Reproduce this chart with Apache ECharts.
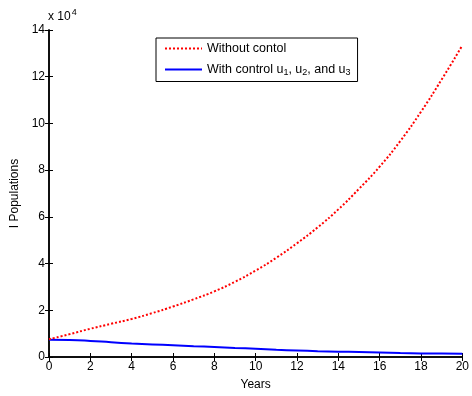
<!DOCTYPE html>
<html>
<head>
<meta charset="utf-8">
<script src="https://cdn.jsdelivr.net/npm/echarts@6/dist/echarts.min.js"></script>
<style>
html,body{margin:0;padding:0;background:#fff;overflow:hidden;}
#chart{width:100vw;height:100vh;}
</style>
</head>
<body>
<div id="chart"></div>
<script>
// Data (values in units of 10^4)
var years = [0,1,2,3,4,5,6,7,8,9,10,11,12,13,14,15,16,17,18,19,20];
var withoutControl = [0.76,0.98,1.21,1.42,1.63,1.88,2.16,2.47,2.81,3.22,3.70,4.25,4.87,5.55,6.32,7.20,8.15,9.25,10.50,11.88,13.34];
var withControl = [0.74,0.73,0.69,0.63,0.58,0.54,0.50,0.46,0.43,0.39,0.35,0.31,0.28,0.25,0.23,0.21,0.19,0.17,0.155,0.15,0.14];
var yTicks = [0,2,4,6,8,10,12,14];
var xTicks = [0,2,4,6,8,10,12,14,16,18,20];
var seriesNames = ['Without contol', 'With control u{sub|1}, u{sub|2}, and u{sub|3}'];

var FONT = 'Liberation Sans, Arial, sans-serif';
function pairs(xs, ys){ return xs.map(function(x,i){ return [x, ys[i]]; }); }

var axisCommon = {
  type: 'value',
  axisLine: {show: true, lineStyle: {color: '#000', width: 1.5}},
  axisTick: {show: true, inside: true, length: 4, lineStyle: {color: '#000', width: 1}},
  splitLine: {show: false},
  axisLabel: {color: '#000', fontFamily: FONT, fontSize: 12}
};

var chart = echarts.init(document.getElementById('chart'), null, {renderer: 'canvas'});
chart.setOption({
  animation: false,
  backgroundColor: '#fff',
  grid: {left: 49, right: 2, top: 30, bottom: 36, containLabel: false},
  xAxis: [
    Object.assign({}, axisCommon, {
      position: 'bottom', min: xTicks[0], max: xTicks[xTicks.length-1], interval: 2,
      axisLabel: Object.assign({}, axisCommon.axisLabel, {margin: 4}),
      name: 'Years', nameLocation: 'middle', nameGap: 22,
      nameTextStyle: {color: '#000', fontFamily: FONT, fontSize: 12}
    }),
    Object.assign({}, axisCommon, {
      position: 'top', min: xTicks[0], max: xTicks[xTicks.length-1], interval: 2,
      axisLabel: {show: false}
    })
  ],
  yAxis: [
    Object.assign({}, axisCommon, {
      position: 'left', min: yTicks[0], max: yTicks[yTicks.length-1], interval: 2,
      axisLabel: Object.assign({}, axisCommon.axisLabel, {margin: 4}),
      name: 'I Populations', nameLocation: 'middle', nameGap: 22,
      nameTextStyle: {color: '#000', fontFamily: FONT, fontSize: 12}
    }),
    Object.assign({}, axisCommon, {
      position: 'right', min: yTicks[0], max: yTicks[yTicks.length-1], interval: 2,
      axisLabel: {show: false}
    })
  ],
  legend: {
    orient: 'vertical',
    left: 156, top: 38,
    padding: [4, 7, 4, 8],
    borderColor: '#000', borderWidth: 1,
    backgroundColor: '#fff',
    itemWidth: 37, itemHeight: 10, itemGap: 8,
    itemStyle: {opacity: 0},
    textStyle: {
      color: '#000', fontFamily: FONT, fontSize: 12.5,
      rich: {sub: {fontSize: 9, fontFamily: FONT, color: '#000', verticalAlign: 'bottom', padding: [7,0,0,0]}}
    },
    data: seriesNames
  },
  graphic: [{
    type: 'text', left: 48, top: 8,
    style: {
      text: 'x 10{sup|4}',
      fontFamily: FONT, fontSize: 12, fill: '#000',
      rich: {sup: {fontSize: 9, fontFamily: FONT, fill: '#000', verticalAlign: 'top', padding: [0,0,8,1]}}
    }
  }],
  series: [
    {
      name: seriesNames[0], type: 'line', smooth: true, symbol: 'none',
      data: pairs(years, withoutControl),
      lineStyle: {color: '#ff0000', width: 2, type: [2, 2]},
      itemStyle: {color: '#ff0000'}, z: 3
    },
    {
      name: seriesNames[1], type: 'line', smooth: true, symbol: 'none',
      data: pairs(years, withControl),
      lineStyle: {color: '#0000ff', width: 2, type: 'solid'},
      itemStyle: {color: '#0000ff'}, z: 2
    }
  ]
});
</script>
</body>
</html>
